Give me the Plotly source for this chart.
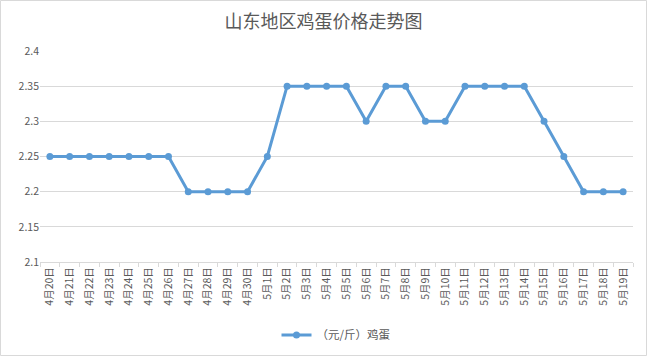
import plotly.graph_objects as go

dates = ["4月20日", "4月21日", "4月22日", "4月23日", "4月24日", "4月25日", "4月26日",
         "4月27日", "4月28日", "4月29日", "4月30日", "5月1日", "5月2日", "5月3日",
         "5月4日", "5月5日", "5月6日", "5月7日", "5月8日", "5月9日", "5月10日",
         "5月11日", "5月12日", "5月13日", "5月14日", "5月15日", "5月16日", "5月17日",
         "5月18日", "5月19日"]
prices = [2.25, 2.25, 2.25, 2.25, 2.25, 2.25, 2.25,
          2.2, 2.2, 2.2, 2.2, 2.25, 2.35, 2.35,
          2.35, 2.35, 2.3, 2.35, 2.35, 2.3, 2.3,
          2.35, 2.35, 2.35, 2.35, 2.3, 2.25, 2.2,
          2.2, 2.2]
series_name = "（元/斤）鸡蛋"
y_ticks = [2.1, 2.15, 2.2, 2.25, 2.3, 2.35, 2.4]

FONT = "Noto Sans CJK SC"
GREY = "#595959"
BLUE = "#5B9BD5"

fig = go.Figure()
fig.add_trace(go.Scatter(
    x=dates, y=prices, name=series_name, mode="lines+markers",
    line=dict(color=BLUE, width=3),
    marker=dict(color=BLUE, size=7),
))

fig.update_layout(
    width=647, height=356,
    margin=dict(l=40, r=14, t=51, b=94),
    paper_bgcolor="white", plot_bgcolor="white",
    font=dict(family=FONT, color=GREY, size=10),
    title=dict(text="山东地区鸡蛋价格走势图", x=0.5, xanchor="center",
               y=0.938, yanchor="middle",
               font=dict(family=FONT, size=18, color=GREY)),
    showlegend=True,
    legend=dict(orientation="h", x=0.5, xanchor="center",
                yref="container", y=0.059, yanchor="middle",
                itemwidth=30,
                font=dict(family=FONT, size=11.5, color=GREY)),
    xaxis=dict(
        type="category", range=[-0.5, len(dates) - 0.5],
        tickangle=-90, ticks="outside", tickson="boundaries",
        ticklen=4, tickcolor="#D9D9D9", showline=True, linecolor="#D9D9D9",
        linewidth=1, showgrid=False, tickfont=dict(size=10.5, color=GREY),
        automargin=False,
    ),
    yaxis=dict(
        range=[2.1, 2.4], tickvals=y_ticks, ticktext=[f"{v:g}" for v in y_ticks],
        showgrid=True, gridcolor="#D9D9D9", gridwidth=1, zeroline=False,
        showline=False, ticks="", tickfont=dict(size=10.5, color=GREY),
        automargin=False,
    ),
    shapes=[dict(type="rect", xref="paper", yref="paper",
                 x0=-39.5/593, x1=1+13.5/593, y0=-93.5/211, y1=1+50.5/211,
                 line=dict(color="#D9D9D9", width=1))],
)

fig.write_html("out.html", config={"displayModeBar": False},
               post_script="document.body.style.margin='0';document.body.style.overflow='hidden';")
